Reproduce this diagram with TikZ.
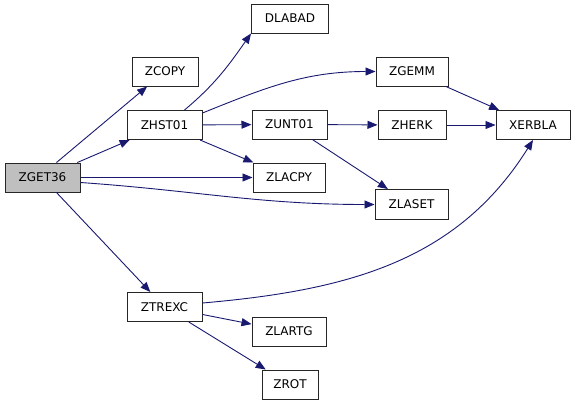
\documentclass[tikz,border=0pt]{standalone}
\usepackage{fontspec}
\setmainfont{DejaVu Sans}
\usetikzlibrary{arrows.meta}
\definecolor{edgeblue}{HTML}{191970}
\definecolor{boxgray}{HTML}{BFBFBF}
\begin{document}
\begin{tikzpicture}[x=1pt,y=-1pt,
  fn/.style={draw=black!85,line width=1pt,fill=white,minimum height=29pt,inner sep=0pt,font=\fontsize{12}{13}\selectfont},
  cur/.style={fn,fill=boxgray},
  call/.style={draw=edgeblue,line width=0.9pt,-{Triangle[length=10pt,width=8pt]}}]
\useasboundingbox (0,0) rectangle (576,405);
\node[cur,minimum width=75pt] (zget36) at (42.5,177.5) {ZGET36};
\node[fn,minimum width=66pt] (zcopy) at (165,71.5) {ZCOPY};
\node[fn,minimum width=75pt] (zhst01) at (164.5,125) {ZHST01};
\node[fn,minimum width=77pt] (dlabad) at (290,18.5) {DLABAD};
\node[fn,minimum width=75pt] (zunt01) at (289.5,124.5) {ZUNT01};
\node[fn,minimum width=72pt] (zgemm) at (412,71.5) {ZGEMM};
\node[fn,minimum width=68pt] (zherk) at (412,125) {ZHERK};
\node[fn,minimum width=74pt] (xerbla) at (533,125) {XERBLA};
\node[fn,minimum width=72pt] (zlacpy) at (289,177.5) {ZLACPY};
\node[fn,minimum width=73pt,minimum height=30pt] (zlaset) at (411.5,204.5) {ZLASET};
\node[fn,minimum width=75pt] (ztrexc) at (164.5,307) {ZTREXC};
\node[fn,minimum width=74pt] (zlartg) at (289,331.5) {ZLARTG};
\node[fn,minimum width=56pt] (zrot) at (290,384.5) {ZROT};

\draw[call] (zget36.north) ++(14,0) -- (zcopy);
\draw[call] (zget36) -- (zhst01);
\draw[call] (zget36.east |- zlacpy) -- (zlacpy);
\draw[call] (zget36.east) ++(0,5) to[out=-4,in=180] (zlaset.west);
\draw[call] (zget36.south) ++(14,0) -- (ztrexc);
\draw[call] (zhst01.north) ++(20,0) to[out=40,in=235] (dlabad.south west);
\draw[call] (zhst01.north east) ++(0,3) to[out=22,in=180] (zgemm.west);
\draw[call] (zhst01) -- (zunt01);
\draw[call] (zhst01) -- (zlacpy);
\draw[call] (zunt01) -- (zherk);
\draw[call] (zunt01) -- (zlaset);
\draw[call] (zgemm) -- (xerbla);
\draw[call] (zherk) -- (xerbla);
\draw[call] (ztrexc.east) ++(0,-4) to[out=5,in=238] (xerbla.south);
\draw[call] (ztrexc) -- (zlartg);
\draw[call] (ztrexc) -- (zrot);
\end{tikzpicture}
\end{document}
